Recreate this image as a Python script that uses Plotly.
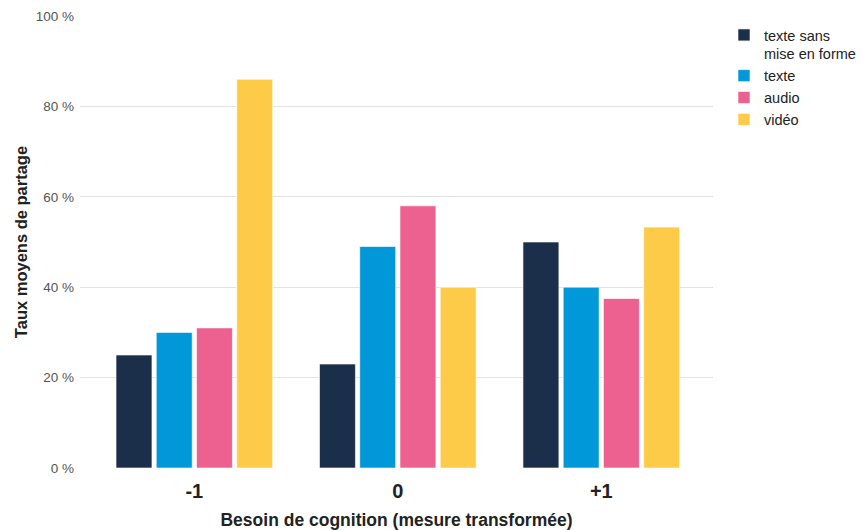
import plotly.graph_objects as go

categories = ["-1", "0", "+1"]
series_names = ["texte sans<br>mise en forme", "texte", "audio", "vidéo"]
texte_sans_mise_en_forme = [25, 23, 50]
texte = [30, 49, 40]
audio = [31, 58, 37.5]
video = [86, 40, 53.3]
y_ticks = [0, 20, 40, 60, 80, 100]
y_tick_labels = ["0 %", "20 %", "40 %", "60 %", "80 %", "100 %"]

colors = ["#1c2f4a", "#0098d8", "#ec6190", "#fdcb47"]
values = [texte_sans_mise_en_forme, texte, audio, video]

fig = go.Figure()
for name, vals, col in zip(series_names, values, colors):
    fig.add_trace(go.Bar(
        x=categories, y=vals, name=name,
        marker=dict(color=col, line=dict(color="rgba(255,255,255,0.6)", width=1)),
    ))

W, H = 857, 522
fig.update_layout(
    width=W, height=H,
    margin=dict(l=72, r=W - 705, t=8, b=H - 460, autoexpand=False),
    paper_bgcolor="white", plot_bgcolor="white",
    barmode="group", bargap=0.209, bargroupgap=0.107,
    font=dict(family="Liberation Sans, Arial, sans-serif", color="#222"),
    showlegend=True,
    legend=dict(xref="container", yref="container", x=716 / W, y=1 - 11 / H,
                xanchor="left", yanchor="top", valign="top",
                font=dict(size=14.5, color="#222"), tracegroupgap=0,
                itemwidth=30),
    xaxis=dict(
        type="category", range=[-0.562, 2.549],
        tickfont=dict(size=20, color="#222", family="Liberation Sans, Arial, sans-serif"),
        ticklabelstandoff=9,
        title=dict(text="<b>Besoin de cognition (mesure transformée)</b>",
                   font=dict(size=17.5, color="#222"), standoff=12),
        showgrid=False, showline=False, ticks="",
        tickprefix="<b>", ticksuffix="</b>",
    ),
    yaxis=dict(
        range=[0, 100], tickmode="array", tickvals=y_ticks, ticktext=y_tick_labels,
        tickfont=dict(size=13.5, color="#555"),
        ticklabelstandoff=5,
        gridcolor="#e3e3e3", gridwidth=1, zeroline=False,
        title=dict(text="<b>Taux moyens de partage</b>",
                   font=dict(size=16.5, color="#222"), standoff=3),
        ticks="", showline=False,
    ),
)

fig.write_html("out.html")
